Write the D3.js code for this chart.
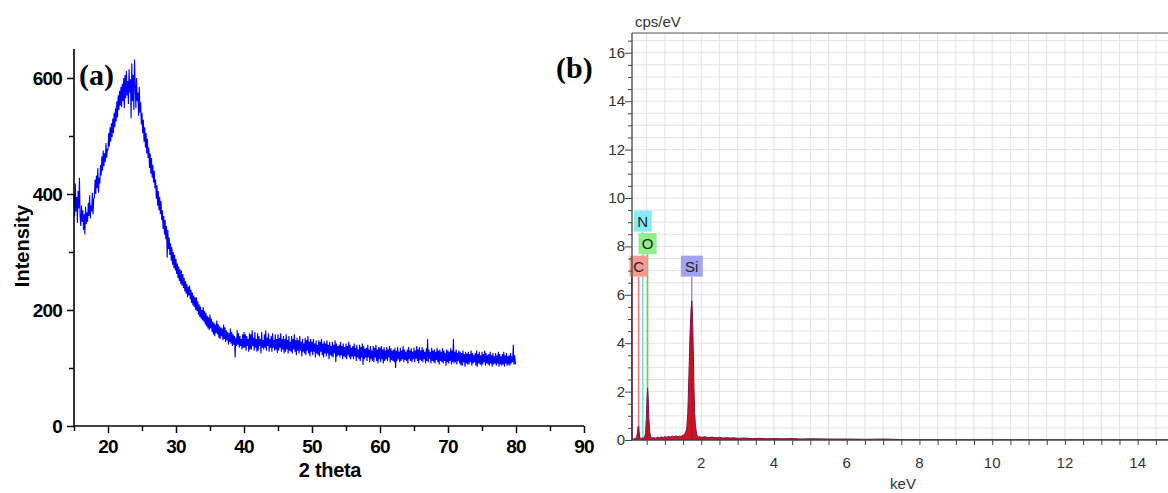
<!DOCTYPE html>
<html>
<head>
<meta charset="utf-8">
<script src="https://cdn.jsdelivr.net/npm/d3@7/dist/d3.min.js"></script>
<style>
  html, body { margin: 0; padding: 0; background: #fff; }
  svg { display: block; }
</style>
</head>
<body>
<svg id="chart" width="1168" height="493"></svg>
<script>
// ---------------- DATA ----------------
// Panel (a): XRD pattern, 2 theta from 15 to 80 with step 0.1 (one row per degree)
const xrdStart = 15;
const xrdStep = 0.1;
const xrdIntensity = [
  400,362,418,370,395,350,405,375,428,360,
  345,380,352,372,338,365,330,378,348,368,
  352,385,362,398,358,380,370,402,365,392,
  395,425,400,432,410,445,402,428,418,450,
  432,465,440,475,448,470,455,488,462,478,
  475,505,482,515,490,522,498,530,505,540,
  515,548,525,560,532,570,545,578,552,585,
  550,590,560,600,548,605,565,612,570,595,
  555,615,575,598,530,625,560,605,545,632,
  590,548,600,560,575,535,585,540,558,520,
  540,505,528,490,515,480,505,470,495,462,
  480,445,470,435,462,428,450,420,440,410,
  425,392,415,380,405,372,395,365,388,355,
  372,340,362,330,355,322,345,290,338,305,
  325,295,315,285,308,278,300,272,295,268,
  288,262,280,255,275,250,270,245,268,242,
  262,238,255,232,250,228,245,222,240,225,
  242,218,235,212,230,208,225,205,222,200,
  222,198,215,192,210,188,206,185,200,182,
  205,180,198,175,195,172,190,168,188,165,
  192,168,185,162,180,158,178,155,175,160,
  182,158,176,152,172,150,170,155,168,148,
  175,150,170,145,165,148,162,140,160,145,
  168,142,162,138,158,140,155,118,152,138,
  165,140,160,135,155,138,150,132,158,135,
  162,135,158,130,155,138,150,128,160,132,
  158,132,165,138,152,130,162,135,150,128,
  160,130,155,138,150,125,162,135,148,132,
  158,135,165,130,152,138,160,128,150,135,
  155,128,160,135,148,130,158,132,150,126,
  158,130,152,135,160,128,150,132,155,125,
  150,128,158,132,148,125,155,130,145,128,
  155,125,150,132,158,128,148,122,152,130,
  148,125,155,130,145,120,150,128,142,125,
  152,122,148,130,155,125,145,120,150,128,
  145,122,150,128,142,118,148,125,140,122,
  148,120,145,128,150,122,142,118,146,125,
  142,120,148,125,140,115,145,122,138,120,
  145,118,140,125,148,110,142,120,138,122,
  140,118,145,122,138,115,142,120,136,118,
  142,115,138,122,145,118,140,115,135,120,
  138,115,142,120,135,112,140,118,132,115,
  140,112,136,118,142,105,138,115,133,118,
  135,112,140,118,132,110,138,115,130,112,
  138,110,135,118,140,112,132,108,136,115,
  135,110,138,115,132,108,136,112,130,115,
  136,112,132,118,138,110,134,114,130,112,
  132,110,135,100,130,112,136,115,128,110,
  135,112,130,115,138,110,132,114,128,112,
  132,108,136,115,130,112,134,110,128,115,
  135,110,130,116,138,112,132,108,136,114,
  130,112,136,110,132,115,128,108,134,112,
  150,110,132,115,128,108,135,112,130,110,
  132,108,128,114,135,110,130,106,132,112,
  128,110,134,108,130,112,126,104,132,110,
  130,108,128,112,134,106,130,110,150,108,
  128,110,132,106,126,112,130,108,128,105,
  126,104,130,110,124,102,128,108,125,106,
  128,106,124,110,130,104,126,108,122,110,
  126,104,130,102,124,108,128,106,122,104,
  128,106,124,110,130,104,126,108,122,106,
  124,104,128,108,122,102,126,106,120,108,
  126,104,122,108,128,102,124,106,120,104,
  124,106,128,102,122,108,126,104,120,106,
  122,104,126,108,120,110,140,106,122,108,
  110
];
const xrdXTicks = [20, 30, 40, 50, 60, 70, 80, 90];
const xrdYTicks = [0, 200, 400, 600];

// Panel (b): EDS spectrum
const edsEnergy = [0.09, 0.10, 0.11, 0.14, 0.18, 0.22, 0.24, 0.26, 0.27, 0.28, 0.29, 0.31, 0.34, 0.37, 0.39, 0.41, 0.44, 0.47, 0.49, 0.51, 0.525, 0.54, 0.56, 0.58, 0.61, 0.65, 0.70, 0.75, 0.80, 0.85, 0.90, 0.95, 1.00, 1.05, 1.10, 1.15, 1.20, 1.25, 1.30, 1.35, 1.40, 1.45, 1.50, 1.55, 1.60, 1.63, 1.66, 1.69, 1.72, 1.74, 1.76, 1.78, 1.80, 1.82, 1.84, 1.86, 1.88, 1.92, 1.96, 2.00, 2.1, 2.2, 2.3, 2.4, 2.5, 2.6, 2.7, 2.8, 2.9, 3.0, 3.2, 3.4, 3.6, 3.8, 4.0, 4.25, 4.5, 4.75, 5.0, 5.5, 6.0, 6.5, 7.0, 7.5, 8.0, 9.0, 10.0, 12.0, 14.9];
const edsCps    = [6.8, 0.4, 0.05, 0.04, 0.06, 0.1, 0.25, 0.5, 0.58, 0.55, 0.35, 0.12, 0.06, 0.07, 0.1, 0.08, 0.1, 0.3, 0.9, 1.7, 2.15, 1.8, 0.9, 0.35, 0.12, 0.08, 0.1, 0.07, 0.12, 0.09, 0.13, 0.1, 0.14, 0.11, 0.15, 0.12, 0.16, 0.13, 0.17, 0.14, 0.16, 0.15, 0.2, 0.25, 0.45, 1.1, 2.6, 4.3, 5.4, 5.75, 5.2, 3.8, 2.2, 1.1, 0.6, 0.4, 0.2, 0.12, 0.14, 0.11, 0.13, 0.1, 0.12, 0.09, 0.11, 0.08, 0.1, 0.08, 0.09, 0.07, 0.08, 0.06, 0.07, 0.05, 0.06, 0.05, 0.06, 0.04, 0.05, 0.04, 0.04, 0.03, 0.04, 0.02, 0.02, 0.01, 0.01, 0, 0];
const edsElements = ["C", "N", "O", "Si"];
const edsElementEnergy = [0.277, 0.392, 0.525, 1.74];
const edsElementColor = ["#f59a94", "#86eef2", "#90ee8c", "#a0a3f2"];
const edsLineColor = ["#f07a74", "#6fe3e8", "#5fd65a", "#8f93ee"];
const edsLabelLevel = [0, 2, 1, 0];
const edsXTicks = [2, 4, 6, 8, 10, 12, 14];
const edsYTicks = [0, 2, 4, 6, 8, 10, 12, 14, 16];

// ---------------- DRAW ----------------
const svg = d3.select("#chart");

// ===== Panel (a) =====
const ax = d3.scaleLinear().domain([15, 90]).range([74, 584]);
const ay = d3.scaleLinear().domain([0, 650]).range([426, 49]);
const boldFont = "'Liberation Sans', Arial, sans-serif";

const xrdData = xrdIntensity.map((v, i) => ({ x: xrdStart + i * xrdStep, y: v }));

svg.append("path")
  .datum(xrdData)
  .attr("fill", "none")
  .attr("stroke", "#0000ff")
  .attr("stroke-width", 1.1)
  .attr("stroke-linejoin", "miter")
  .attr("d", d3.line().x(d => ax(d.x)).y(d => ay(d.y)));

// y axis (a)
const gay = svg.append("g").attr("transform", `translate(${ax(15)},0)`);
gay.call(d3.axisLeft(ay).tickValues(d3.range(0, 601, 100)).tickSize(6).tickFormat(""));
gay.select(".domain").attr("stroke", "#000").attr("stroke-width", 1.6).attr("d", `M0,${ay(0)}V${ay(650)}`);
gay.selectAll(".tick line").attr("stroke", "#000").attr("stroke-width", 1.5)
  .attr("x2", d => (d % 200 === 0 ? -7 : -5));
gay.selectAll(".yl").data(xrdYTicks).enter().append("text")
  .attr("x", -12).attr("y", d => ay(d) + 6.5)
  .attr("text-anchor", "end")
  .attr("fill", "#000")
  .attr("font-family", boldFont).attr("font-weight", "bold").attr("font-size", 19)
  .attr("letter-spacing", "-0.8px")
  .text(d => d);

// x axis (a)
const gax = svg.append("g").attr("transform", `translate(0,${ay(0)})`);
gax.call(d3.axisBottom(ax).tickValues(d3.range(15, 91, 5)).tickSize(6).tickFormat(""));
gax.select(".domain").attr("stroke", "#000").attr("stroke-width", 1.6).attr("d", `M${ax(15)},0H${ax(90)}`);
gax.selectAll(".tick line").attr("stroke", "#000").attr("stroke-width", 1.5)
  .attr("y2", d => (d % 10 === 0 ? 7 : 5));
gax.selectAll(".xl").data(xrdXTicks).enter().append("text")
  .attr("x", d => ax(d)).attr("y", 27)
  .attr("text-anchor", "middle")
  .attr("fill", "#000")
  .attr("font-family", boldFont).attr("font-weight", "bold").attr("font-size", 19)
  .attr("letter-spacing", "-0.8px")
  .text(d => d);

svg.append("text")
  .attr("x", 330).attr("y", 477)
  .attr("text-anchor", "middle")
  .attr("font-family", boldFont).attr("font-weight", "bold").attr("font-size", 20)
  .attr("letter-spacing", "-0.3px")
  .text("2 theta");

svg.append("text")
  .attr("transform", "translate(29,246) rotate(-90)")
  .attr("text-anchor", "middle")
  .attr("font-family", boldFont).attr("font-weight", "bold").attr("font-size", 20)
  .text("Intensity");

svg.append("text")
  .attr("x", 79).attr("y", 85)
  .attr("font-family", "'Liberation Serif', 'Times New Roman', serif")
  .attr("font-weight", "bold").attr("font-size", 30)
  .text("(a)");

svg.append("text")
  .attr("x", 556).attr("y", 78)
  .attr("font-family", "'Liberation Serif', 'Times New Roman', serif")
  .attr("font-weight", "bold").attr("font-size", 30)
  .text("(b)");

// ===== Panel (b) =====
const bx = d3.scaleLinear().domain([0, 15]).range([628.5, 628.5 + 15 * 36.37]);
const by = d3.scaleLinear().domain([0, 16.8]).range([440, 33.4]);
const pLeft = 632, pRight = 1168, pTop = 33, pBottom = 440;
const lightFont = "'Liberation Sans', Arial, sans-serif";

svg.append("defs").append("clipPath").attr("id", "clipB")
  .append("rect").attr("x", pLeft - 1).attr("y", pTop).attr("width", pRight - pLeft + 1).attr("height", pBottom - pTop);

const plotB = svg.append("g").attr("clip-path", "url(#clipB)");

// grid
const gridX = d3.range(0.5, 15.01, 0.5);
const gridY = d3.range(0.5, 16.81, 0.5);
plotB.selectAll(".gx").data(gridX).enter().append("line")
  .attr("x1", d => bx(d)).attr("x2", d => bx(d)).attr("y1", pTop).attr("y2", pBottom)
  .attr("stroke", "#e2e2e2").attr("stroke-width", 1);
plotB.selectAll(".gy").data(gridY).enter().append("line")
  .attr("x1", pLeft).attr("x2", pRight).attr("y1", d => by(d)).attr("y2", d => by(d))
  .attr("stroke", "#e2e2e2").attr("stroke-width", 1);

// element marker lines
plotB.selectAll(".el").data(edsElements).enter().append("line")
  .attr("x1", (d, i) => bx(edsElementEnergy[i])).attr("x2", (d, i) => bx(edsElementEnergy[i]))
  .attr("y1", (d, i) => by(6.75 + edsLabelLevel[i] * 0.93))
  .attr("y2", by(0))
  .attr("stroke", (d, i) => edsLineColor[i]).attr("stroke-width", 1.5);

// spectrum
const edsData = edsEnergy.map((e, i) => ({ e: e, c: edsCps[i] }));
plotB.append("path")
  .datum(edsData)
  .attr("fill", "#c8000f")
  .attr("fill-opacity", 0.92)
  .attr("stroke", "#7d1345")
  .attr("stroke-width", 1)
  .attr("d", d3.area().x(d => bx(d.e)).y0(by(0)).y1(d => by(d.c)));

// element label boxes
const lbl = svg.selectAll(".lbl").data(edsElements).enter().append("g")
  .attr("transform", (d, i) => `translate(${bx(edsElementEnergy[i])},${by(6.75 + edsLabelLevel[i] * 0.93)})`);
lbl.append("rect")
  .attr("x", d => (d.length > 1 ? -11 : -9)).attr("y", -21)
  .attr("width", d => (d.length > 1 ? 22 : 18)).attr("height", 21)
  .attr("fill", (d, i) => edsElementColor[i]);
lbl.append("text")
  .attr("x", 0).attr("y", -5)
  .attr("text-anchor", "middle")
  .attr("font-family", lightFont).attr("font-size", 15).attr("fill", "#222")
  .text(d => d);

// frame
svg.append("line").attr("x1", pLeft).attr("x2", pRight).attr("y1", pTop).attr("y2", pTop)
  .attr("stroke", "#555").attr("stroke-width", 1.2);

// y axis (b)
const gby = svg.append("g").attr("transform", `translate(${pLeft},0)`);
gby.call(d3.axisLeft(by).tickValues(d3.range(0, 16.6, 0.5)).tickSize(4).tickFormat(""));
gby.select(".domain").attr("stroke", "#444").attr("stroke-width", 1.3).attr("d", `M0,${pTop}V${pBottom}`);
gby.selectAll(".tick line").attr("stroke", "#444").attr("stroke-width", 1)
  .attr("x2", d => (Math.abs(d % 2) < 1e-6 ? -7 : -4));
gby.selectAll(".yl").data(edsYTicks).enter().append("text")
  .attr("x", -7).attr("y", d => by(d) + 5)
  .attr("text-anchor", "end")
  .attr("font-family", lightFont).attr("font-size", 15).attr("fill", "#333")
  .text(d => d);

// x axis (b)
const gbx = svg.append("g").attr("transform", `translate(0,${pBottom})`);
gbx.call(d3.axisBottom(bx).tickValues(d3.range(0.5, 14.9, 0.5)).tickSize(5).tickFormat(""));
gbx.select(".domain").attr("stroke", "#444").attr("stroke-width", 1.3).attr("d", `M${pLeft},0H${pRight}`);
gbx.selectAll(".tick line").attr("stroke", "#444").attr("stroke-width", 1);
gbx.selectAll(".xl").data(edsXTicks).enter().append("text")
  .attr("x", d => bx(d)).attr("y", 28)
  .attr("text-anchor", "middle")
  .attr("font-family", lightFont).attr("font-size", 15).attr("fill", "#333")
  .text(d => d);

svg.append("text")
  .attr("x", 903).attr("y", 489)
  .attr("text-anchor", "middle")
  .attr("font-family", lightFont).attr("font-size", 15).attr("fill", "#333")
  .text("keV");

svg.append("text")
  .attr("x", 635).attr("y", 27)
  .attr("font-family", lightFont).attr("font-size", 15).attr("fill", "#333")
  .text("cps/eV");
</script>
</body>
</html>
